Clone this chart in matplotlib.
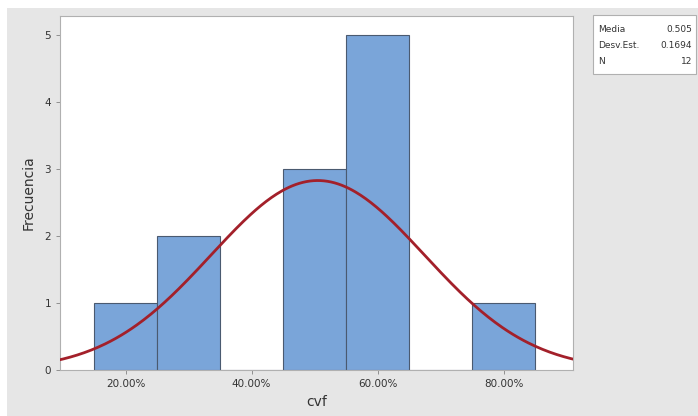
import matplotlib.pyplot as plt
import numpy as np
from matplotlib.patches import Rectangle

# histogram data (cvf, proportion)
bin_centers = [0.20, 0.30, 0.40, 0.50, 0.60, 0.70, 0.80]
counts = [1, 2, 0, 3, 5, 0, 1]
bin_width = 0.10
x_ticks = [0.20, 0.40, 0.60, 0.80]
x_tick_labels = ["20.00%", "40.00%", "60.00%", "80.00%"]

mean = 0.505
std = 0.1694
n = 12

BAR_COLOR = "#7aa5d9"
EDGE_COLOR = "#4a5a70"
CURVE_COLOR = "#a3202a"
TEXT_COLOR = "#333333"

fig = plt.figure(figsize=(6.98, 4.16), dpi=100, facecolor="white")
# gray Minitab background panel
fig.patches.append(Rectangle((7 / 698, 0), 1, 1 - 8 / 416, transform=fig.transFigure,
                             facecolor="#e6e6e6", edgecolor="none", zorder=-10))

ax = fig.add_axes([60 / 698, 1 - 370 / 416, 513 / 698, 354 / 416])
ax.set_zorder(5)
ax.set_facecolor("white")

ax.bar(bin_centers, counts, width=bin_width, color=BAR_COLOR,
       edgecolor=EDGE_COLOR, linewidth=0.8, zorder=2)

# fitted normal curve, scaled to counts
xs = np.linspace(0.09, 0.92, 300)
pdf = np.exp(-0.5 * ((xs - mean) / std) ** 2) / (std * np.sqrt(2 * np.pi))
ax.plot(xs, n * bin_width * pdf, color=CURVE_COLOR, linewidth=2, zorder=3)

ax.set_xlim(0.096, 0.910)
ax.set_ylim(0, 5.28)
ax.set_xticks(x_ticks)
ax.set_xticklabels(x_tick_labels)
ax.set_yticks(range(6))

for side in ["top", "right", "left", "bottom"]:
    ax.spines[side].set_color("#b0b0b0")
    ax.spines[side].set_linewidth(0.8)
ax.tick_params(axis="both", colors="#909090", labelcolor=TEXT_COLOR,
               labelsize=7.5, length=3, width=0.7)

ax.set_xlabel("cvf", fontsize=10, color=TEXT_COLOR, labelpad=4)
ax.set_ylabel("Frecuencia", fontsize=10, color=TEXT_COLOR, labelpad=6)

# stats box
fig.patches.append(Rectangle((593 / 698, 1 - 74 / 416), 103 / 698, 59 / 416,
                             transform=fig.transFigure, facecolor="white",
                             edgecolor="#b0b0b0", linewidth=0.8, zorder=1))
rows = [("Media", "0.505"), ("Desv.Est.", "0.1694"), ("N", "12")]
for i, (name, val) in enumerate(rows):
    y = 1 - (29 + i * 16) / 416
    fig.text(598 / 698, y, name, fontsize=6.5, color=TEXT_COLOR, va="center", ha="left", zorder=2)
    fig.text(692 / 698, y, val, fontsize=6.5, color=TEXT_COLOR, va="center", ha="right", zorder=2)

fig.savefig("out.png", dpi=100)
